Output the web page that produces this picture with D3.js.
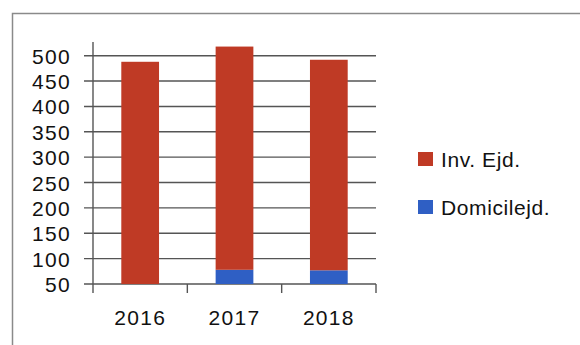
<!DOCTYPE html>
<html>
<head>
<meta charset="utf-8">
<script src="https://cdn.jsdelivr.net/npm/d3@7"></script>
<style>
  body { margin: 0; background: #fff; }
  svg text { font-family: "Liberation Sans", Arial, sans-serif; fill: #111; }
</style>
</head>
<body>
<div id="chartdiv"></div>
<script>
var years = ["2016", "2017", "2018"];
var invEjd = [488, 440, 415];
var domicilEjd = [0, 78, 77];
var seriesNames = ["Inv. Ejd.", "Domicilejd."];
var seriesColors = ["#bf3a25", "#2f5fc4"];
var yTicks = [50, 100, 150, 200, 250, 300, 350, 400, 450, 500];

var W = 580, H = 345;
var svg = d3.select("#chartdiv").append("svg")
    .attr("width", W)
    .attr("height", H);

// scanned frame round the chart
svg.append("path")
    .attr("d", "M12.5," + H + "V13.5H" + W)
    .attr("fill", "none")
    .attr("stroke", "#8a8a8a")
    .attr("stroke-width", 1.5);

var x = d3.scaleBand()
    .domain(years)
    .range([93, 376])
    .paddingInner(0.6)
    .paddingOuter(0.3);

var y = d3.scaleLinear()
    .domain([50, 527])
    .range([284, 42]);

// gridlines
svg.append("g")
    .selectAll("line")
    .data(yTicks)
    .enter()
    .append("line")
    .attr("x1", 84)
    .attr("x2", 376)
    .attr("y1", function(d) { return y(d); })
    .attr("y2", function(d) { return y(d); })
    .attr("stroke", "#555")
    .attr("stroke-width", 1.4);

// stacked bars, domicile at the bottom
var rows = years.map(function(yr, i) {
  return { year: yr, dom: domicilEjd[i], inv: invEjd[i] };
});
var stack = d3.stack().keys(["dom", "inv"])(rows);
var colorFor = { inv: seriesColors[0], dom: seriesColors[1] };

svg.append("g")
    .selectAll("g")
    .data(stack)
    .enter()
    .append("g")
    .attr("fill", function(s) { return colorFor[s.key]; })
    .selectAll("rect")
    .data(function(s) { return s; })
    .enter()
    .append("rect")
    .attr("x", function(d) { return x(d.data.year); })
    .attr("width", x.bandwidth())
    .attr("y", function(d) { return y(d[1]); })
    .attr("height", function(d) {
      var lo = Math.max(d[0], 50);
      return Math.max(0, y(lo) - y(d[1]));
    });

// y axis line and x axis with category ticks
svg.append("line")
    .attr("x1", 93).attr("x2", 93)
    .attr("y1", 42).attr("y2", 293)
    .attr("stroke", "#555").attr("stroke-width", 1.4);

var xAxis = d3.axisBottom(x).tickSize(0).tickFormat(function(d) { return d; });
var xg = svg.append("g")
    .attr("transform", "translate(0,284)")
    .call(xAxis);
xg.select(".domain").remove();
xg.selectAll("text")
    .attr("dy", 0)
    .attr("y", 41)
    .style("font-size", "21px")
    .style("letter-spacing", "1.3px");

svg.append("g")
    .selectAll("line")
    .data(years.slice(1).concat(["end"]))
    .enter()
    .append("line")
    .attr("x1", function(d, i) { return 93 + (i + 1) * (376 - 93) / years.length; })
    .attr("x2", function(d, i) { return 93 + (i + 1) * (376 - 93) / years.length; })
    .attr("y1", 284).attr("y2", 293)
    .attr("stroke", "#555").attr("stroke-width", 1.4);

// y labels
var yAxis = d3.axisLeft(y).tickValues(yTicks).tickSize(0);
var yg = svg.append("g")
    .attr("transform", "translate(71,0)")
    .call(yAxis);
yg.select(".domain").remove();
yg.selectAll("text")
    .attr("x", 0)
    .attr("dy", "0.36em")
    .style("font-size", "21px")
    .style("letter-spacing", "1.3px");

// legend
var legend = svg.append("g")
    .selectAll("g")
    .data(seriesNames)
    .enter()
    .append("g")
    .attr("transform", function(d, i) { return "translate(418," + (152 + i * 48) + ")"; });
legend.append("rect")
    .attr("width", 15)
    .attr("height", 14)
    .attr("fill", function(d, i) { return seriesColors[i]; });
legend.append("text")
    .attr("x", 23)
    .attr("y", 15)
    .style("font-size", "21px")
    .style("letter-spacing", "0.6px")
    .text(function(d) { return d; });
</script>
</body>
</html>
